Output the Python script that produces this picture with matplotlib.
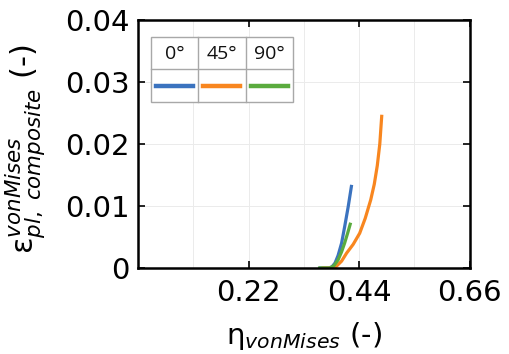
import matplotlib
matplotlib.use("Agg")
import matplotlib.pyplot as plt
import matplotlib.ticker as ticker
from matplotlib.lines import Line2D
from matplotlib.patches import Rectangle

# eta_vonMises vs plastic von Mises strain
eta_0 = [0.360, 0.380, 0.386, 0.392, 0.398, 0.405, 0.411, 0.418, 0.425]
eps_0 = [0.0, 0.0, 0.0002, 0.0008, 0.0020, 0.0040, 0.0066, 0.0098, 0.0134]

eta_45 = [0.365, 0.385, 0.390, 0.395, 0.405, 0.415, 0.428, 0.441, 0.452, 0.463, 0.470, 0.476, 0.481, 0.485]
eps_45 = [0.0, 0.0, 0.0001, 0.0003, 0.0011, 0.0024, 0.0038, 0.0056, 0.0080, 0.0110, 0.0135, 0.0165, 0.0200, 0.0247]

eta_90 = [0.358, 0.382, 0.390, 0.398, 0.405, 0.411, 0.417, 0.423]
eps_90 = [0.0, 0.0, 0.0004, 0.0013, 0.0026, 0.0040, 0.0056, 0.0073]

labels = ["0°", "45°", "90°"]
colors = ["#3b73bf", "#f8861f", "#5aab3e"]

x_ticks = [0.22, 0.44, 0.66]
x_tick_labels = ["0.22", "0.44", "0.66"]
y_ticks = [0, 0.01, 0.02, 0.03, 0.04]
y_tick_labels = ["0", "0.01", "0.02", "0.03", "0.04"]

fig = plt.figure(figsize=(5.09, 3.54), dpi=100)
ax = fig.add_axes([0.271, 0.243, 0.652, 0.701])

for eta, eps, c in zip([eta_0, eta_45, eta_90], [eps_0, eps_45, eps_90], colors):
    ax.plot(eta, eps, color=c, lw=2.3, solid_capstyle="butt")

ax.set_xlim(0, 0.66)
ax.set_ylim(0, 0.04)
ax.set_xticks(x_ticks)
ax.set_xticklabels(x_tick_labels)
ax.set_yticks(y_ticks)
ax.set_yticklabels(y_tick_labels)
ax.xaxis.set_minor_locator(ticker.FixedLocator([0.11, 0.33, 0.55]))
ax.grid(True, which="both", color="#ebebeb", lw=0.7)
ax.set_axisbelow(True)
ax.tick_params(which="major", direction="in", length=5, width=1.2, top=True, right=True,
               labelsize=21)
ax.tick_params(axis="y", pad=6)
ax.tick_params(axis="x", pad=8)
ax.tick_params(which="minor", direction="in", length=0)
for s in ax.spines.values():
    s.set_linewidth(1.8)

ax.set_xlabel(r"η$_{vonMises}$ (-)", fontsize=21)
ax.set_ylabel(r"ε$^{vonMises}_{pl,\ composite}$ (-)", fontsize=22)
ax.xaxis.set_label_coords(0.5, -0.21)
ax.yaxis.set_label_coords(-0.272, 0.48)

# table-style legend in the upper left
x0, x1, y0, y1, ym = 0.039, 0.467, 0.669, 0.931, 0.802
cell_w = (x1 - x0) / 3
ax.add_patch(Rectangle((x0, y0), x1 - x0, y1 - y0, transform=ax.transAxes,
                       facecolor="white", edgecolor="#a8a8a8", lw=1.0, zorder=5))
ax.add_line(Line2D([x0, x1], [ym, ym], transform=ax.transAxes, color="#a8a8a8", lw=1.0, zorder=6))
for i in range(1, 3):
    xi = x0 + i * cell_w
    ax.add_line(Line2D([xi, xi], [y0, y1], transform=ax.transAxes, color="#a8a8a8", lw=1.0, zorder=6))
for i, (lab, c) in enumerate(zip(labels, colors)):
    xc = x0 + (i + 0.5) * cell_w
    ax.text(xc, (ym + y1) / 2 - 0.005, lab, transform=ax.transAxes, ha="center", va="center",
            fontsize=14, color="#111111", family="Open Sans", zorder=7)
    ax.add_line(Line2D([xc - cell_w * 0.39, xc + cell_w * 0.39], [0.734, 0.734],
                       transform=ax.transAxes, color=c, lw=3.2, zorder=7))

fig.savefig("out.png", dpi=100)
